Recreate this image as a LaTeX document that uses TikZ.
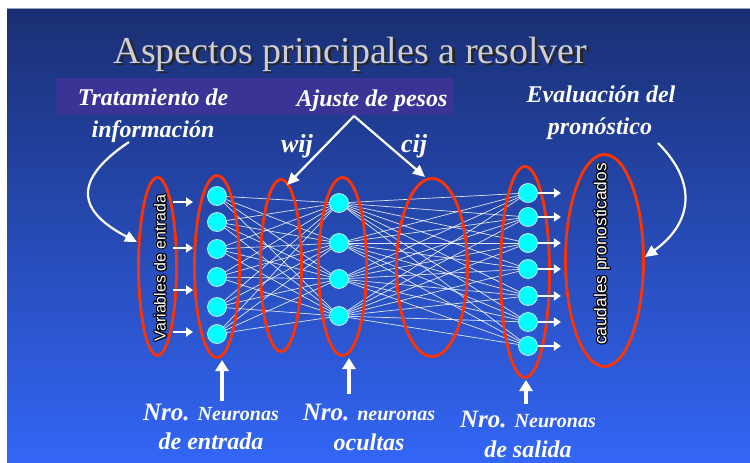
\documentclass[tikz,border=0pt]{standalone}
\usepackage{fontspec}
\setmainfont{Liberation Serif}
\setsansfont{Liberation Sans}
\usetikzlibrary{shapes.geometric,arrows.meta}
\definecolor{bgtop}{RGB}{26,47,115}
\definecolor{bgbot}{RGB}{51,102,246}
\definecolor{boxpurple}{RGB}{58,52,150}
\definecolor{ringred}{RGB}{255,51,0}
\definecolor{neuroncol}{RGB}{0,255,255}
\definecolor{titlegray}{RGB}{205,205,210}
\pgfdeclarelayer{back}
\pgfdeclarelayer{mid}
\pgfsetlayers{back,mid,main}
\begin{document}
\begin{tikzpicture}[x=1pt,y=-1pt,
  ring/.style={draw=ringred,line width=2.8pt,ellipse,inner sep=0pt},
  neu/.style={circle,fill=neuroncol,draw=white!75!cyan,line width=0.8pt,minimum size=19pt,inner sep=0pt},
  link/.style={white,line width=0.7pt,opacity=0.85},
  smallarr/.style={white,line width=2.5pt,-{Triangle[length=7pt,width=9pt]}},
  bigarr/.style={white,line width=3.5pt,-{Triangle[length=11pt,width=13pt]}},
  curvarr/.style={white,line width=2.2pt,-{Triangle[length=12pt,width=11pt]}},
  lbl/.style={text=white,font=\rmfamily\bfseries\itshape\fontsize{24}{28}\selectfont,inner sep=0pt,anchor=base},
  vtxt/.style={font=\sffamily\fontsize{16}{18}\selectfont,inner sep=0pt,rotate=90},
]
\useasboundingbox (0,0) rectangle (750,463);
\begin{pgfonlayer}{back}
\fill[white] (0,0) rectangle (750,463);
\fill[top color=bgtop,bottom color=bgbot] (7,8) rectangle (750,463);
\draw[color=white!55!bgtop,line width=1pt] (7,8.5) -- (750,8.5);
\end{pgfonlayer}

% title (with shadow, one node)
\node[font=\rmfamily\fontsize{38}{42}\selectfont,inner sep=0pt,anchor=base] (title) at (350.5,63)
  {\rlap{\hspace{2.5pt}\raisebox{-2.5pt}{\color{black!85}Aspectos principales a resolver}}\textcolor{titlegray}{Aspectos principales a resolver}};

% purple box and top labels
\fill[boxpurple] (56,78) rectangle (453,115);
\node[lbl] (trat) at (153,105) {Tratamiento de};
\node[lbl] (info) at (153,137) {información};
\node[lbl] (ajuste) at (372,106) {Ajuste de pesos};
\node[lbl] (eval) at (601,102) {Evaluación del};
\node[lbl] (pron) at (600,134) {pronóstico};
\node[lbl,font=\rmfamily\bfseries\itshape\fontsize{26}{28}\selectfont] (wij) at (297,152) {wij};
\node[lbl,font=\rmfamily\bfseries\itshape\fontsize{26}{28}\selectfont] (cij) at (414,152) {cij};

% neurons
\node[neu] (i1) at (217,196) {};
\node[neu] (i2) at (217,222) {};
\node[neu] (i3) at (217,249) {};
\node[neu] (i4) at (217,277) {};
\node[neu] (i5) at (217,307) {};
\node[neu] (i6) at (217,334) {};
\node[neu] (h1) at (339,203) {};
\node[neu] (h2) at (339,243) {};
\node[neu] (h3) at (339,279) {};
\node[neu] (h4) at (339,316) {};
\node[neu] (o1) at (528,193) {};
\node[neu] (o2) at (528,217) {};
\node[neu] (o3) at (528,243) {};
\node[neu] (o4) at (528,269) {};
\node[neu] (o5) at (528,296) {};
\node[neu] (o6) at (528,322) {};
\node[neu] (o7) at (528,346) {};

\begin{pgfonlayer}{mid}
\foreach \a in {1,...,6}{\foreach \b in {1,...,4}{\draw[link] (i\a.center) -- (h\b.center);}}
\foreach \a in {1,...,4}{\foreach \b in {1,...,7}{\draw[link] (h\a.center) -- (o\b.center);}}
\end{pgfonlayer}

% rings
\node[ring,minimum width=38pt,minimum height=178pt] (e1) at (157.5,266.5) {};
\node[ring,minimum width=45pt,minimum height=182pt] (e2) at (217,266.5) {};
\node[ring,minimum width=41pt,minimum height=172pt] (e3) at (281,265.5) {};
\node[ring,minimum width=48pt,minimum height=178pt] (e4) at (342.5,266.5) {};
\node[ring,minimum width=71pt,minimum height=178pt] (e5) at (432,267.5) {};
\node[ring,minimum width=49pt,minimum height=211pt] (e6) at (525,272) {};
\node[ring,minimum width=78pt,minimum height=212pt] (e7) at (604.5,260.5) {};

% vertical texts with dark outline
\foreach \dx/\dy in {-1.1/0,1.1/0,0/-1.1,0/1.1,0.8/0.8,-0.8/-0.8,0.8/-0.8,-0.8/0.8}{
  \node[vtxt,text=black] at ({160+\dx},{268+\dy}) {Variables de entrada};
  \node[vtxt,text=black,font=\sffamily\fontsize{17.3}{19}\selectfont] at ({602+\dx},{254+\dy}) {caudales pronosticados};
}
\node[vtxt,text=white] (vin) at (160,268) {Variables de entrada};
\node[vtxt,text=white,font=\sffamily\fontsize{17.3}{19}\selectfont] (vout) at (602,254) {caudales pronosticados};

% input arrows
\foreach \y in {202,248,290,332}{\draw[smallarr] (173,\y) -- (193,\y);}
% output arrows
\foreach \k in {1,...,7}{\draw[smallarr] (o\k.east) -- ++(23,0);}

% pointer arrows from Ajuste de pesos
\coordinate (apex) at (354,116);
\coordinate (wtip) at (287,185);
\coordinate (ctip) at (425,177);
\draw[curvarr] (apex) -- (wtip);
\draw[curvarr] (apex) -- (ctip);

% curved arrows
\coordinate (ls) at (129,142);
\coordinate (le) at (137,242);
\draw[curvarr] (ls) .. controls (65,185) and (85,215) .. (le);
\coordinate (rs) at (658,143);
\coordinate (re) at (645,257);
\draw[curvarr] (rs) .. controls (700,185) and (690,225) .. (re);

% bottom arrows
\coordinate (b1) at (222,401);
\coordinate (b2) at (349,394);
\coordinate (b3) at (526,404);
\draw[bigarr] (b1) -- (222,360);
\draw[bigarr] (b2) -- (349,358);
\draw[bigarr] (b3) -- (526,380);

% bottom labels
\node[lbl] (n1a) at (211,420) {{\fontsize{25}{28}\selectfont Nro.} {\fontsize{20}{24}\selectfont Neuronas}};
\node[lbl] (n1b) at (211,449) {de entrada};
\node[lbl] (n2a) at (369,420) {{\fontsize{25}{28}\selectfont Nro.} {\fontsize{20}{24}\selectfont neuronas}};
\node[lbl] (n2b) at (369,450) {ocultas};
\node[lbl] (n3a) at (528,427) {{\fontsize{25}{28}\selectfont Nro.} {\fontsize{20}{24}\selectfont Neuronas}};
\node[lbl] (n3b) at (528,457) {de salida};
\end{tikzpicture}
\end{document}
